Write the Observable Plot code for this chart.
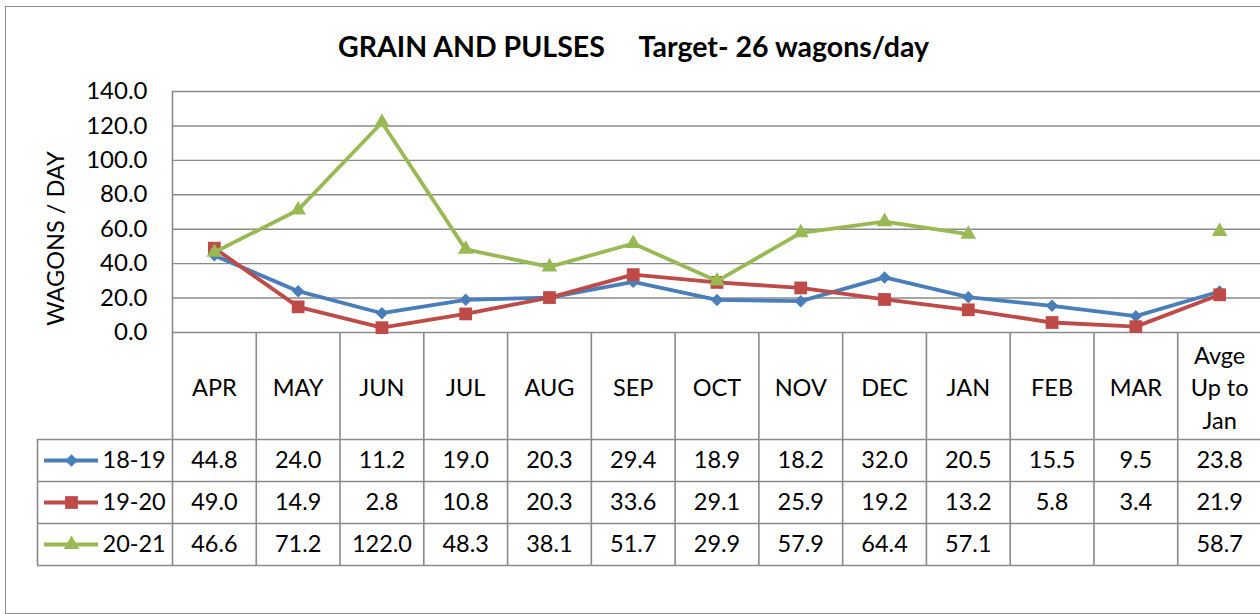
<!DOCTYPE html>
<html><head><meta charset="utf-8">
<script src="https://cdn.jsdelivr.net/npm/d3@7"></script>
<script src="https://cdn.jsdelivr.net/npm/@observablehq/plot@0.6"></script>
<style>
html,body{margin:0;padding:0;background:#fff;overflow:hidden;width:1260px;height:614px;}
#border{position:absolute;left:5px;top:6px;width:1300px;height:606px;border:1.5px solid #8c8c8c;}
#chart{position:absolute;left:0;top:0;}
</style></head><body>
<div id="border"></div><div id="chart"></div>
<script>
const title = "GRAIN AND PULSES\u00a0\u00a0\u00a0\u00a0\u00a0Target- 26 wagons/day";
const yLabel = "WAGONS / DAY";
const categories = ["APR","MAY","JUN","JUL","AUG","SEP","OCT","NOV","DEC","JAN","FEB","MAR","Avge\nUp to\nJan"];
const seriesNames = ["18-19","19-20","20-21"];
const values1819 = [44.8,24.0,11.2,19.0,20.3,29.4,18.9,18.2,32.0,20.5,15.5,9.5,23.8];
const values1920 = [49.0,14.9,2.8,10.8,20.3,33.6,29.1,25.9,19.2,13.2,5.8,3.4,21.9];
const values2021 = [46.6,71.2,122.0,48.3,38.1,51.7,29.9,57.9,64.4,57.1,null,null,58.7];
const yTicks = [0,20,40,60,80,100,120,140];

const seriesValues = [values1819, values1920, values2021];
const colors = ["#4A7EBB","#BE4B48","#98B954"];
const symbols = ["diamond2","square","triangle"];
const radii = [5.6, 7.2, 5.8];

const W = 1260, H = 614, mL = 172, mT = 91, mB = 282, mR = -1;
const frameH = H - mT - mB;
const headerH = 107, rowH = 42;
const tableBottom = headerH + rowH * 3;
const font = "Lato";
const fs = 23.5;
const fmt = v => (v == null ? "" : d3.format(".1f")(v));
const gray = "#8a8a8a";
const idx = categories.map((c, i) => i);

const marks = [];
marks.push(Plot.ruleY(yTicks.slice(1), {stroke: gray, strokeWidth: 1.4}));
marks.push(Plot.ruleY([0], {stroke: gray, strokeWidth: 1.6}));
marks.push(Plot.ruleX([0], {stroke: gray, strokeWidth: 1.6, insetBottom: -tableBottom}));
marks.push(Plot.ruleX(d3.range(1, categories.length), {stroke: gray, strokeWidth: 1.6, insetTop: frameH, insetBottom: -tableBottom}));
for (let k = 0; k <= 3; k++) {
  marks.push(Plot.ruleY([0], {stroke: gray, strokeWidth: 1.6, dy: headerH + rowH * k, insetLeft: -135}));
}
marks.push(Plot.ruleX([0], {stroke: gray, strokeWidth: 1.6, dx: -135, insetTop: frameH + headerH, insetBottom: -tableBottom}));

marks.push(Plot.text(idx, {x: i => i + 0.5, text: i => categories[i], frameAnchor: "bottom", dy: headerH / 2, lineAnchor: "middle", lineHeight: 1.38, fontSize: fs, fill: "#000"}));

seriesValues.forEach((vals, k) => {
  const cy = headerH + rowH * (k + 0.5);
  marks.push(Plot.text(idx, {x: i => i + 0.5, text: i => fmt(vals[i]), frameAnchor: "bottom", dy: cy, lineAnchor: "middle", fontSize: fs, fill: "#000"}));
  marks.push(Plot.ruleY([0], {stroke: colors[k], strokeWidth: 3.8, dy: cy, insetLeft: -(mL - 44), insetRight: (W - mR) - 98}));
  marks.push(Plot.dot([0], {frameAnchor: "bottom-left", dx: 71 - mL, dy: cy, symbol: symbols[k], r: radii[k], fill: colors[k], stroke: "none"}));
  marks.push(Plot.text([seriesNames[k]], {frameAnchor: "bottom-left", dx: 102 - mL, dy: cy, text: d => d, textAnchor: "start", lineAnchor: "middle", fontSize: fs, fill: "#000"}));
});

seriesValues.forEach((vals, k) => {
  marks.push(Plot.line(idx, {x: i => i + 0.5, y: i => vals[i], defined: i => vals[i] != null, stroke: colors[k], strokeWidth: 3.8, strokeLinejoin: "round"}));
  marks.push(Plot.dot(idx.filter(i => vals[i] != null), {x: i => i + 0.5, y: i => vals[i], symbol: symbols[k], r: radii[k], fill: colors[k], stroke: "none"}));
});

marks.push(Plot.text([title], {frameAnchor: "top-left", dx: 633 - mL, dy: 47 - mT, text: d => d, textAnchor: "middle", lineAnchor: "middle", fontSize: 28.5, fontWeight: "bold", fill: "#000"}));
marks.push(Plot.text([yLabel], {frameAnchor: "top-left", dx: 56 - mL, dy: 238 - mT, text: d => d, rotate: -90, textAnchor: "middle", lineAnchor: "middle", fontSize: fs, fill: "#000"}));

marks.push(Plot.axisY({ticks: yTicks, tickFormat: d3.format(".1f"), tickSize: 0, tickPadding: 25, fontSize: 24, fill: "#000"}));

const chart = Plot.plot({
  width: W, height: H,
  marginLeft: mL, marginTop: mT, marginBottom: mB, marginRight: mR,
  style: {fontFamily: font, fontSize: "23px", background: "transparent", overflow: "visible"},
  x: {domain: [0, categories.length], axis: null},
  y: {domain: [0, 140], axis: null},
  marks
});
document.getElementById("chart").appendChild(chart);
</script>
</body></html>
